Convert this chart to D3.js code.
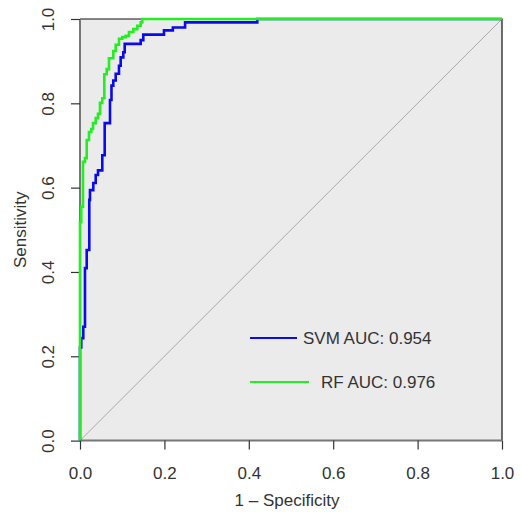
<!DOCTYPE html>
<html>
<head>
<meta charset="utf-8">
<script src="https://cdn.jsdelivr.net/npm/d3@7"></script>
<style>
  body { margin: 0; background: #fff; }
  text { font-family: "Liberation Sans", Arial, sans-serif; fill: #333; }
</style>
</head>
<body>
<div id="chart"></div>
<script>
// ROC step vertices: top of each vertical run (fpr, tpr)
const svmFpr = [0, 0, 0.003, 0.0078, 0.0118, 0.0159, 0.022, 0.0237, 0.0315, 0.0372, 0.0427, 0.0528, 0.0585, 0.0711, 0.0746, 0.0789, 0.0846, 0.0924, 0.0964, 0.1026, 0.1059, 0.1438, 0.150, 0.199, 0.220, 0.249, 0.420, 1];
const svmTpr = [0, 0.221, 0.243, 0.27, 0.409, 0.452, 0.571, 0.594, 0.611, 0.630, 0.641, 0.677, 0.753, 0.808, 0.842, 0.854, 0.870, 0.889, 0.909, 0.921, 0.941, 0.950, 0.963, 0.973, 0.980, 0.992, 1, 1];

const rfFpr = [0, 0, 0.003, 0.0071, 0.0118, 0.0159, 0.0213, 0.0268, 0.0308, 0.0372, 0.0427, 0.0474, 0.0528, 0.0576, 0.0633, 0.0687, 0.0789, 0.0846, 0.0924, 0.1002, 0.1083, 0.1161, 0.1263, 0.1358, 0.1438, 0.1476, 1];
const rfTpr = [0, 0.518, 0.555, 0.661, 0.670, 0.713, 0.732, 0.739, 0.753, 0.765, 0.775, 0.801, 0.812, 0.869, 0.881, 0.907, 0.924, 0.939, 0.953, 0.957, 0.960, 0.969, 0.976, 0.984, 0.992, 1, 1];

const tickVals = [0, 0.2, 0.4, 0.6, 0.8, 1.0];
const legendLabels = ["SVM AUC: 0.954", "RF AUC: 0.976"];

const width = 522, height = 512;
const svg = d3.select("#chart").append("svg")
    .attr("width", width)
    .attr("height", height);

const x = d3.scaleLinear().domain([0, 1]).range([80, 502]);
const y = d3.scaleLinear().domain([0, 1]).range([440.6, 19]);

// plot background
svg.append("rect")
    .attr("x", x(0)).attr("y", y(1))
    .attr("width", x(1) - x(0)).attr("height", y(0) - y(1))
    .attr("fill", "#ebebeb");

// frame on top and right
svg.append("path")
    .attr("d", `M${x(0)},${y(1)}H${x(1)}V${y(0)}`)
    .attr("fill", "none").attr("stroke", "#111").attr("stroke-width", 1.2);

// diagonal reference
svg.append("line")
    .attr("x1", x(0)).attr("y1", y(0)).attr("x2", x(1)).attr("y2", y(1))
    .attr("stroke", "#aaa").attr("stroke-width", 1);

// axes
const xAxis = svg.append("g")
    .attr("transform", `translate(0,${y(0)})`)
    .call(d3.axisBottom(x).tickValues(tickVals).tickFormat(d3.format(".1f")).tickSize(9));
const yAxis = svg.append("g")
    .attr("transform", `translate(${x(0)},0)`)
    .call(d3.axisLeft(y).tickValues(tickVals).tickFormat(d3.format(".1f")).tickSize(9));

[xAxis, yAxis].forEach(g => {
    g.select(".domain").attr("stroke", "#777").attr("stroke-width", 2);
    g.selectAll(".tick line").attr("stroke", "#333").attr("stroke-width", 1.2);
    g.selectAll(".tick text").attr("font-size", 17).attr("fill", "#333")
        .style("font-family", "'Liberation Sans', Arial, sans-serif");
});
xAxis.select(".domain").attr("d", `M${x(0)},0H${x(1)}`);
yAxis.select(".domain").attr("d", `M0,${y(0)}V${y(1)}`);
xAxis.selectAll(".tick text").attr("y", 32).attr("dy", "0.35em");
yAxis.selectAll(".tick text")
    .attr("text-anchor", "middle")
    .attr("x", null).attr("y", 0).attr("dy", "0.35em")
    .attr("transform", "translate(-32,0) rotate(-90)");

// ROC curves
const line = d3.line().x(d => x(d[0])).y(d => y(d[1])).curve(d3.curveStepAfter);
const svmPts = d3.zip(svmFpr, svmTpr);
const rfPts = d3.zip(rfFpr, rfTpr);

svg.append("path").datum(svmPts)
    .attr("d", line).attr("fill", "none")
    .attr("stroke", "#0a0aee").attr("stroke-width", 2.6);
svg.append("path").datum(rfPts)
    .attr("d", line).attr("fill", "none")
    .attr("stroke", "#22ee22").attr("stroke-width", 2.6);

// legend
const legColors = ["#0a0aee", "#22ee22"];
const legY = [338, 382];
const legLineEnd = [297, 309];
const legTextX = [303, 321];
legendLabels.forEach((lab, i) => {
    svg.append("line")
        .attr("x1", 250).attr("x2", legLineEnd[i])
        .attr("y1", legY[i]).attr("y2", legY[i])
        .attr("stroke", legColors[i]).attr("stroke-width", 2);
    svg.append("text")
        .attr("x", legTextX[i]).attr("y", legY[i]).attr("dy", "0.35em")
        .attr("font-size", 17).text(lab);
});

// axis titles
svg.append("text")
    .attr("x", x(0.5) - 4).attr("y", 500).attr("dy", "0.35em")
    .attr("text-anchor", "middle").attr("font-size", 17)
    .text("1 \u2013 Specificity");
svg.append("text")
    .attr("transform", `translate(20,${y(0.5)}) rotate(-90)`)
    .attr("dy", "0.35em")
    .attr("text-anchor", "middle").attr("font-size", 17)
    .text("Sensitivity");
</script>
</body>
</html>
